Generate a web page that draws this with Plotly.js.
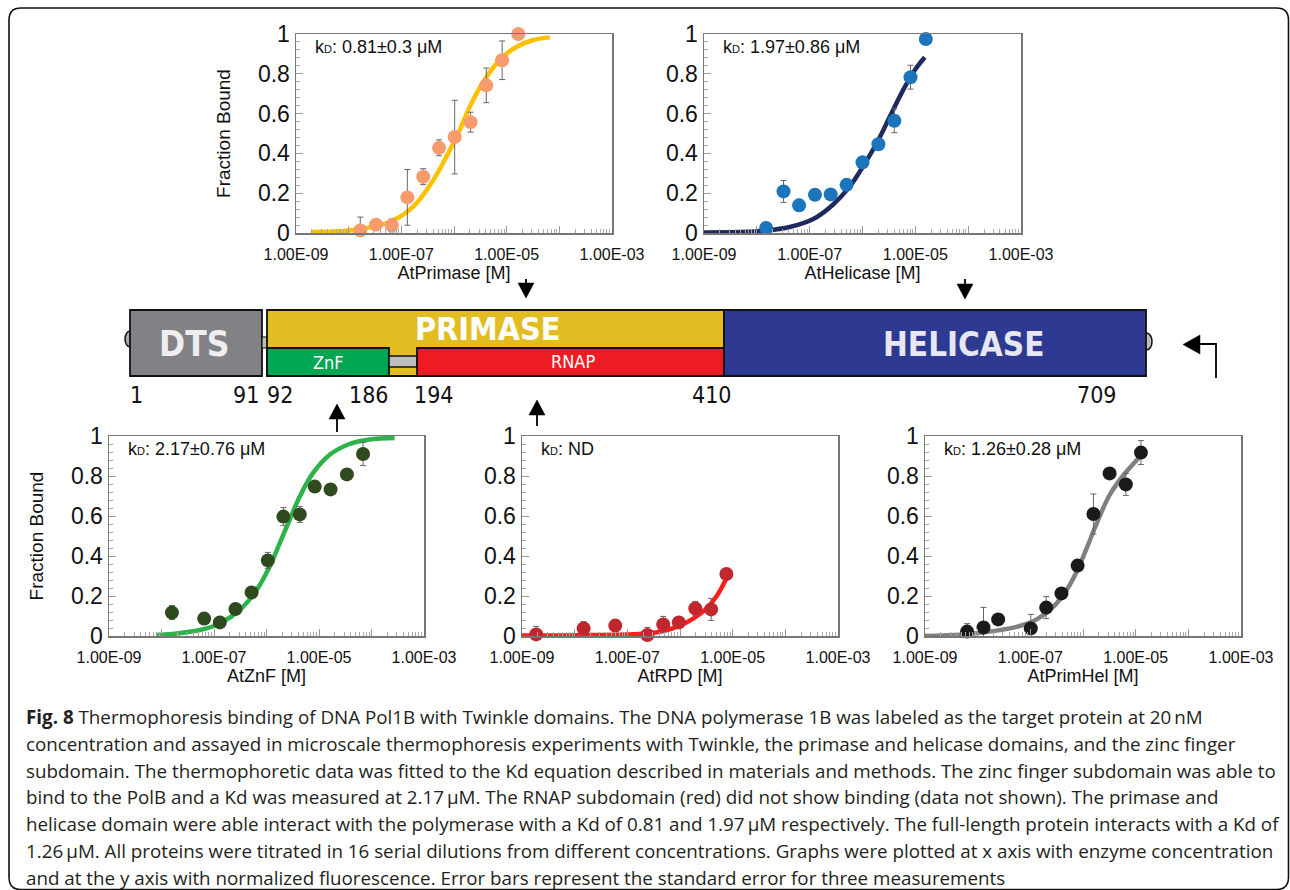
<!DOCTYPE html>
<html>
<head>
<meta charset="utf-8">
<script src="https://cdn.plot.ly/plotly-3.0.1.min.js"></script>
<style>html,body{margin:0;padding:0;background:#fff;}#chart{width:1290px;height:890px;}</style>
</head>
<body>
<div id="chart"></div>
<script>
// ---------------- DATA ----------------
// Panel 1: AtPrimase
const primaseX   = [1.66e-8, 3.3e-8, 6.6e-8, 1.3e-7, 2.6e-7, 5.2e-7, 1.03e-6, 2.07e-6, 4.1e-6, 8.2e-6, 1.66e-5];
const primaseY   = [0.013, 0.042, 0.038, 0.179, 0.283, 0.428, 0.482, 0.557, 0.742, 0.868, 1.0];
const primaseErr = [0.067, 0.01, 0.032, 0.14, 0.04, 0.04, 0.185, 0.05, 0.087, 0.097, 0];
const primaseFitX = [2.0e-9, 7.9e-9, 2.2e-8, 6.6e-8, 1.7e-7, 4.1e-7, 7.2e-7, 1.2e-6, 2.0e-6, 3.6e-6, 7.4e-6, 1.55e-5, 3.2e-5, 6.6e-5];
const primaseFitY = [0.005, 0.01, 0.025, 0.06, 0.134, 0.268, 0.385, 0.50, 0.635, 0.76, 0.87, 0.936, 0.97, 0.983];

// Panel 2: AtHelicase
const helicaseX   = [1.5e-8, 3.2e-8, 6.3e-8, 1.26e-7, 2.5e-7, 5.0e-7, 1.0e-6, 2.0e-6, 4.0e-6, 8.1e-6, 1.58e-5];
const helicaseY   = [0.025, 0.209, 0.139, 0.192, 0.194, 0.242, 0.355, 0.446, 0.564, 0.783, 0.975];
const helicaseErr = [0, 0.055, 0.03, 0, 0, 0, 0, 0, 0.06, 0.06, 0.02];
const helicaseFitX = [1.0e-9, 4.8e-9, 1.5e-8, 4.2e-8, 1.17e-7, 2.75e-7, 5.75e-7, 1.02e-6, 1.86e-6, 3.3e-6, 5.9e-6, 9.8e-6, 1.51e-5];
const helicaseFitY = [0.003, 0.005, 0.012, 0.03, 0.07, 0.142, 0.234, 0.334, 0.452, 0.585, 0.719, 0.819, 0.883];

// Panel 3: AtZnF
const znfX   = [1.58e-8, 6.5e-8, 1.29e-7, 2.57e-7, 5.2e-7, 1.06e-6, 2.1e-6, 4.3e-6, 8.3e-6, 1.66e-5, 3.4e-5, 6.9e-5];
const znfY   = [0.117, 0.087, 0.068, 0.135, 0.218, 0.378, 0.597, 0.608, 0.747, 0.733, 0.808, 0.91];
const znfErr = [0.035, 0, 0, 0, 0, 0.04, 0.045, 0.04, 0, 0, 0, 0.058];
const znfFitX = [7.8e-9, 1.95e-8, 5.4e-8, 1.29e-7, 3.1e-7, 6.5e-7, 1.15e-6, 1.78e-6, 2.75e-6, 4.3e-6, 7.6e-6, 1.58e-5, 3.8e-5, 9.3e-5, 2.75e-4];
const znfFitY = [0.005, 0.013, 0.03, 0.063, 0.13, 0.23, 0.347, 0.463, 0.58, 0.697, 0.813, 0.905, 0.96, 0.983, 0.99];

// Panel 4: AtRPD
const rpdX   = [1.86e-9, 1.48e-8, 5.9e-8, 2.4e-7, 4.8e-7, 9.5e-7, 1.95e-6, 3.9e-6, 7.6e-6];
const rpdY   = [0.008, 0.038, 0.052, 0.005, 0.058, 0.068, 0.138, 0.133, 0.31];
const rpdErr = [0.04, 0.034, 0.03, 0.038, 0.04, 0, 0.035, 0.055, 0];
const rpdFitX = [1.0e-9, 5.2e-9, 2.2e-8, 9.5e-8, 2.3e-7, 4.8e-7, 1.0e-6, 1.78e-6, 3.2e-6, 4.9e-6, 7.6e-6];
const rpdFitY = [0.003, 0.003, 0.005, 0.007, 0.012, 0.025, 0.052, 0.087, 0.138, 0.197, 0.288];

// Panel 5: AtPrimHel
const primhelX   = [6.3e-9, 1.29e-8, 2.45e-8, 1.02e-7, 2.0e-7, 3.9e-7, 7.9e-7, 1.58e-6, 3.2e-6, 6.5e-6, 1.26e-5];
const primhelY   = [0.022, 0.043, 0.083, 0.038, 0.142, 0.213, 0.352, 0.61, 0.813, 0.758, 0.917];
const primhelErr = [0.04, 0.1, 0, 0.07, 0.055, 0, 0, 0.1, 0, 0.055, 0.06];
const primhelFitX = [1.0e-9, 5.4e-9, 2.3e-8, 6.3e-8, 1.32e-7, 2.75e-7, 4.9e-7, 7.6e-7, 1.17e-6, 1.82e-6, 3.2e-6, 5.9e-6, 1.05e-5, 1.29e-5];
const primhelFitY = [0.0, 0.008, 0.027, 0.05, 0.083, 0.147, 0.23, 0.322, 0.438, 0.563, 0.705, 0.805, 0.88, 0.905];

// Tick labels
const xTickVals = [1e-9, 1e-8, 1e-7, 1e-6, 1e-5, 1e-4, 1e-3];
const xTickText = ['1.00E-09', '', '1.00E-07', '', '1.00E-05', '', '1.00E-03'];
const yTickVals = [0, 0.2, 0.4, 0.6, 0.8, 1];
const yTickText = ['0', '0.2', '0.4', '0.6', '0.8', '1'];

const panelTitles = ['AtPrimase [M]', 'AtHelicase [M]', 'AtZnF [M]', 'AtRPD [M]', 'AtPrimHel [M]'];
const panelKd = ['0.81±0.3 μM', '1.97±0.86 μM', '2.17±0.76 μM', 'ND', '1.26±0.28 μM'];

// Domain diagram labels
const residueLabels = ['1', '91', '92', '186', '194', '410', '709'];

const captionLines = [
  '<b>Fig. 8</b> Thermophoresis binding of DNA Pol1B with Twinkle domains. The DNA polymerase 1B was labeled as the target protein at 20\u2009nM',
  'concentration and assayed in microscale thermophoresis experiments with Twinkle, the primase and helicase domains, and the zinc finger',
  'subdomain. The thermophoretic data was fitted to the Kd equation described in materials and methods. The zinc finger subdomain was able to',
  'bind to the PolB and a Kd was measured at 2.17\u2009μM. The RNAP subdomain (red) did not show binding (data not shown). The primase and',
  'helicase domain were able interact with the polymerase with a Kd of 0.81 and 1.97\u2009μM respectively. The full-length protein interacts with a Kd of',
  '1.26\u2009μM. All proteins were titrated in 16 serial dilutions from different concentrations. Graphs were plotted at x axis with enzyme concentration',
  'and at the y axis with normalized fluorescence. Error bars represent the standard error for three measurements'
];

// ---------------- LAYOUT ----------------
const W = 1290, H = 890;
const X = p => p / W;
const Y = p => 1 - p / H;

const panels = [
  {px: [296, 612], py: [34, 233], data: [primaseX, primaseY, primaseErr, primaseFitX, primaseFitY], mk: '#F79A6E', ln: '#FFC000', ytitle: true},
  {px: [704, 1021], py: [34, 233], data: [helicaseX, helicaseY, helicaseErr, helicaseFitX, helicaseFitY], mk: '#1B75BC', ln: '#1F2A5E', ytitle: false},
  {px: [109, 424], py: [436, 636], data: [znfX, znfY, znfErr, znfFitX, znfFitY], mk: '#2F4A1E', ln: '#2DB34A', ytitle: true},
  {px: [522, 838], py: [436, 636], data: [rpdX, rpdY, rpdErr, rpdFitX, rpdFitY], mk: '#C1272D', ln: '#FF1E1E', ytitle: false},
  {px: [925, 1241], py: [436, 636], data: [primhelX, primhelY, primhelErr, primhelFitX, primhelFitY], mk: '#1A1A1A', ln: '#808080', ytitle: false}
];

const minorX = [];
for (let e = -9; e < -3; e++) for (let m = 2; m <= 9; m++) minorX.push(m * Math.pow(10, e));

const tickFont = {family: 'Liberation Sans, Arial, sans-serif', color: '#111'};
const traces = [];
const layout = {
  width: W, height: H,
  margin: {l: 0, r: 0, t: 0, b: 0},
  paper_bgcolor: '#fff', plot_bgcolor: '#fff',
  showlegend: false,
  shapes: [], annotations: []
};

panels.forEach((p, i) => {
  const n = i === 0 ? '' : String(i + 1);
  const [dx, dy, de, fx, fy] = p.data;
  traces.push({
    type: 'scatter', mode: 'lines', x: fx, y: fy, xaxis: 'x' + n, yaxis: 'y' + n,
    line: {color: p.ln, width: 4.5, shape: 'spline', smoothing: 1}, cliponaxis: false, hoverinfo: 'skip'
  });
  traces.push({
    type: 'scatter', mode: 'markers', x: dx, y: dy, xaxis: 'x' + n, yaxis: 'y' + n,
    marker: {color: p.mk, size: 14},
    error_y: {type: 'data', array: de, visible: true, color: '#666', thickness: 1, width: 3},
    cliponaxis: false
  });
  layout['xaxis' + n] = {
    domain: [X(p.px[0]), X(p.px[1])], anchor: 'y' + n,
    type: 'log', range: [-9, -3], fixedrange: true,
    tickmode: 'array', tickvals: xTickVals, ticktext: xTickText,
    ticks: 'inside', ticklen: 7, tickcolor: '#999', tickwidth: 1,
    ticklabelstandoff: 6,
    minor: {tickmode: 'array', tickvals: minorX, ticks: 'inside', ticklen: 4, tickcolor: '#aaa', tickwidth: 1},
    showgrid: false, zeroline: false,
    showline: true, mirror: true, linecolor: '#777', linewidth: 1.5,
    tickfont: Object.assign({size: 16}, tickFont),
    title: {text: panelTitles[i], font: Object.assign({size: 18}, tickFont), standoff: 4}
  };
  layout['yaxis' + n] = {
    domain: [Y(p.py[1]), Y(p.py[0])], anchor: 'x' + n,
    range: [0, 1], fixedrange: true,
    tickmode: 'array', tickvals: yTickVals, ticktext: yTickText,
    ticks: 'inside', ticklen: 7, tickcolor: '#999', tickwidth: 1,
    minor: {dtick: 0.04, ticks: 'inside', ticklen: 4, tickcolor: '#aaa', tickwidth: 1},
    showgrid: false, zeroline: false,
    showline: true, mirror: true, linecolor: '#777', linewidth: 1.5,
    tickfont: Object.assign({size: 23}, tickFont),
    title: p.ytitle ? {text: 'Fraction Bound', font: Object.assign({size: 19}, tickFont), standoff: 22} : {text: ''}
  };
  layout.annotations.push({
    xref: 'paper', yref: 'paper', x: X(p.px[0] + 17), y: Y(p.py[0] + 13),
    xanchor: 'left', yanchor: 'middle', showarrow: false,
    text: 'k<span style="font-size:11px">D</span>: ' + panelKd[i],
    font: Object.assign({size: 18}, tickFont)
  });
});

// -------- Domain diagram (schematic) --------
function rect(x0, y0, x1, y1, fill, lw) {
  return {type: 'rect', xref: 'paper', yref: 'paper', x0: X(x0), x1: X(x1), y0: Y(y1), y1: Y(y0),
    fillcolor: fill, line: {color: '#111', width: lw === undefined ? 1.8 : lw}, layer: 'above'};
}
function circ(x0, y0, x1, y1, fill) {
  return {type: 'circle', xref: 'paper', yref: 'paper', x0: X(x0), x1: X(x1), y0: Y(y1), y1: Y(y0),
    fillcolor: fill, line: {color: '#111', width: 1.5}, layer: 'above'};
}
function pathPx(pts, fill, close) {
  let d = pts.map((q, k) => (k ? 'L' : 'M') + X(q[0]) + ',' + Y(q[1])).join(' ') + (close ? ' Z' : '');
  return {type: 'path', xref: 'paper', yref: 'paper', path: d,
    fillcolor: fill || 'rgba(0,0,0,0)', line: {color: '#000', width: fill ? 0.5 : 1.8}, layer: 'above'};
}
const S = layout.shapes;
S.push(circ(125, 331, 135, 347, '#a7a9ac'));
S.push(circ(1141, 333, 1152, 350, '#bcbec0'));
S.push(rect(130, 310, 262, 376, '#808285'));
S.push(rect(262, 337, 267, 348, '#bcbec0', 1.2));
S.push(rect(267, 310, 724, 376, '#E1BD22'));
S.push(rect(267, 348, 389, 376, '#00A651'));
S.push(rect(389, 356, 417, 367, '#bcbec0', 1.5));
S.push(rect(417, 348, 724, 376, '#ED1C24'));
S.push(rect(724, 310, 1146, 376, '#2E3A92'));
// arrows
function downArrow(x, yTop, yTip) {
  S.push(pathPx([[x, yTop], [x, yTip - 10]], null, false));
  S.push(pathPx([[x - 8, yTip - 15], [x + 8, yTip - 15], [x, yTip]], '#000', true));
}
function upArrow(x, yTip, yBot) {
  S.push(pathPx([[x, yBot], [x, yTip + 10]], null, false));
  S.push(pathPx([[x - 8, yTip + 15], [x + 8, yTip + 15], [x, yTip]], '#000', true));
}
downArrow(526, 279, 298);
downArrow(965, 279, 299);
upArrow(337, 404, 432);
upArrow(537, 400, 426);
S.push(pathPx([[1216, 378], [1216, 344], [1196, 344]], null, false));
S.push(pathPx([[1200, 335], [1200, 354], [1183, 344.5]], '#000', true));

// outer frame with rounded corners
(function () {
  const l = 9, t = 8, r = 1288.5, b = 889.5, rr = 12;
  const d = 'M' + X(l + rr) + ',' + Y(t) + ' L' + X(r - rr) + ',' + Y(t) +
    ' Q' + X(r) + ',' + Y(t) + ' ' + X(r) + ',' + Y(t + rr) +
    ' L' + X(r) + ',' + Y(b - rr) + ' Q' + X(r) + ',' + Y(b) + ' ' + X(r - rr) + ',' + Y(b) +
    ' L' + X(l + rr) + ',' + Y(b) + ' Q' + X(l) + ',' + Y(b) + ' ' + X(l) + ',' + Y(b - rr) +
    ' L' + X(l) + ',' + Y(t + rr) + ' Q' + X(l) + ',' + Y(t) + ' ' + X(l + rr) + ',' + Y(t) + ' Z';
  S.push({type: 'path', xref: 'paper', yref: 'paper', path: d, line: {color: '#111', width: 1.6}, fillcolor: 'rgba(0,0,0,0)', layer: 'below'});
})();

const narrow = 'Liberation Sans Narrow, DejaVu Sans Condensed, Arial Narrow, sans-serif';
function txt(x, y, s, size, color, bold, fam, anchor) {
  layout.annotations.push({xref: 'paper', yref: 'paper', x: X(x), y: Y(y), xanchor: anchor || 'center', yanchor: 'middle',
    showarrow: false, text: bold ? '<b>' + s + '</b>' : s, font: {family: fam || narrow, size: size, color: color}});
}
txt(194, 344, 'DTS', 35, '#eeeeee', true);
txt(487, 329, 'PRIMASE', 32, '#ffffff', true);
txt(964, 344, 'HELICASE', 33, '#e6e7f3', true);
txt(328, 362, 'ZnF', 18, '#ffffff', false);
txt(573, 361, 'RNAP', 18, '#ffffff', false);
const residuePx = [136, 246, 280, 369, 434, 712, 1097];
residueLabels.forEach((s, k) => txt(residuePx[k], 395, s, 23, '#111', false));

// caption
captionLines.forEach((s, k) => {
  layout.annotations.push({xref: 'paper', yref: 'paper', x: X(24), y: Y(717 + k * 26.8), xanchor: 'left', yanchor: 'middle',
    showarrow: false, align: 'left', text: s, font: {family: 'Open Sans, sans-serif', size: 18.8, color: '#231f20'}});
});

Plotly.newPlot('chart', traces, layout, {staticPlot: true, displayModeBar: false});
</script>
</body>
</html>
